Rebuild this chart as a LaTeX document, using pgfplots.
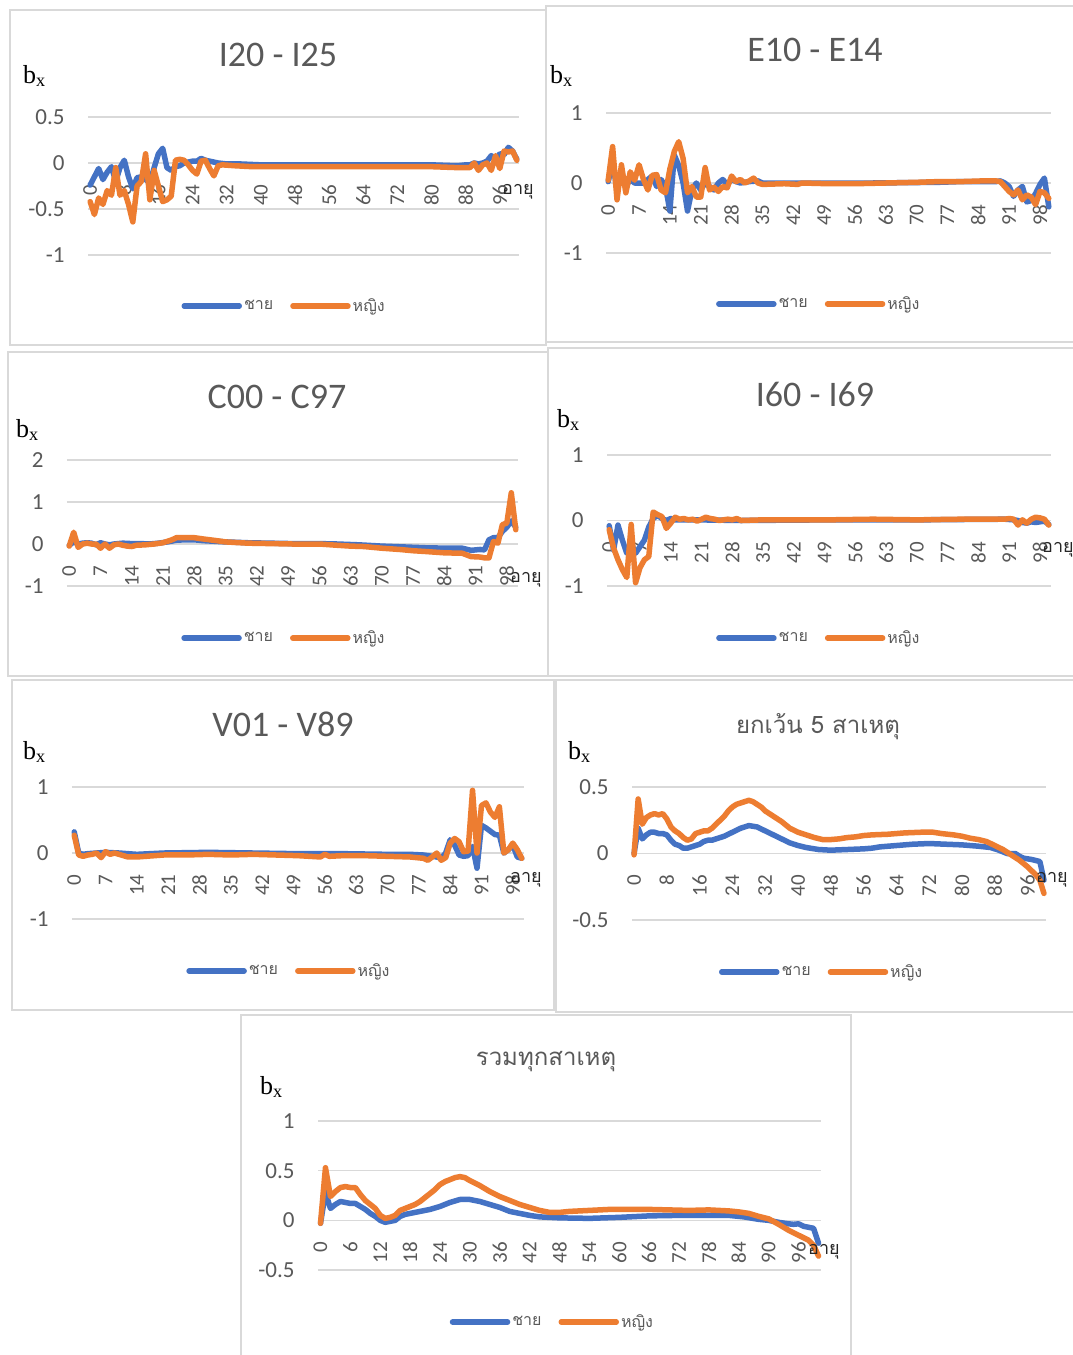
\documentclass[border=0pt]{standalone}
\usepackage{pgfplots}
\pgfplotsset{compat=1.18}
\usepackage{fontspec}
\setmainfont{Carlito}
\newfontfamily\thaifont[Script=Thai]{Loma}
\newfontfamily\seriffont{Liberation Serif}
\definecolor{mblue}{HTML}{4472C4}
\definecolor{forange}{HTML}{ED7D31}
\definecolor{gridgray}{HTML}{D9D9D9}
\definecolor{tickgray}{HTML}{595959}
\pgfplotsset{
  panel/.style={
    scale only axis,
    axis x line*=middle, axis y line*=left,
    axis line style={draw=none},
    major tick length=0pt,
    xmin=-0.5, xmax=100.5,
    ymajorgrids, grid style={draw=gridgray, line width=1.5pt},
    hide obscured x ticks=false, hide obscured y ticks=false,
    ticklabel style={text=tickgray},
    /pgf/number format/assume math mode=true,
    yticklabel style={font=\fontsize{23}{23}\selectfont, anchor=east, xshift=-20pt},
    xticklabel style={font=\fontsize{21}{21}\selectfont, yshift=-18pt, rotate=90, anchor=east},
    clip=false,
    every axis plot/.append style={line width=5.5pt, line join=round, line cap=round, mark=none},
    legend columns=2,
    legend style={draw=none, fill=none, inner sep=0pt, anchor=center,
      font=\thaifont\fontsize{16}{16}\selectfont, text=tickgray,
      /tikz/every even column/.append style={column sep=15pt},
      nodes={inner xsep=2pt}},
    legend image code/.code={\draw[#1] (0pt,0pt) -- (55pt,0pt);},
  },
}
\newcommand{\ttl}[3]{\node[text=tickgray, font=\fontsize{36}{36}\selectfont] at (#1pt,-#2pt) {#3};}
\newcommand{\thttl}[3]{\node[text=tickgray, font=\thaifont\fontsize{24}{24}\selectfont] at (#1pt,-#2pt) {#3};}
\newcommand{\bx}[2]{\node[anchor=west, inner sep=0pt, font=\seriffont\fontsize{26}{26}\selectfont] at (#1pt,-#2pt) {b\textsubscript{x}};}
\newcommand{\age}[2]{\node[anchor=west, inner sep=0pt, text=black!85, font=\thaifont\fontsize{18}{18}\selectfont] at (#1pt,-#2pt) {อายุ};}
\begin{document}
\begin{tikzpicture}
\useasboundingbox (0pt,0pt) rectangle (1073pt,-1355pt);
\fill[white] (0pt,0pt) rectangle (1073pt,-1355pt);
% panel frames
\draw[gridgray, line width=1.5pt] (10pt,-10pt) rectangle (546pt,-345pt);
\draw[gridgray, line width=1.5pt] (546pt,-6pt) rectangle (1080pt,-342pt);
\draw[gridgray, line width=1.5pt] (8pt,-352pt) rectangle (548pt,-676pt);
\draw[gridgray, line width=1.5pt] (548pt,-348pt) rectangle (1080pt,-676pt);
\draw[gridgray, line width=1.5pt] (12pt,-680pt) rectangle (554pt,-1010pt);
\draw[gridgray, line width=1.5pt] (556pt,-680pt) rectangle (1080pt,-1012pt);
\draw[gridgray, line width=1.5pt] (241pt,-1015pt) rectangle (851pt,-1365pt);

% ---------- Panel 1: I20 - I25
\begin{axis}[panel, at={(88pt,-255pt)}, anchor=south west, width=431pt, height=138pt,
  ymin=-1, ymax=0.5, ytick={-1,-0.5,0,0.5}, xtick={0,8,...,96},
  legend style={at={(axis description cs:0.455,-0.370)}}]
\addplot[mblue] coordinates {(0,-0.24)(1,-0.15)(2,-0.06)(3,-0.18)(4,-0.10)(5,-0.04)(6,-0.20)(7,-0.05)(8,0.03)(9,-0.15)(10,-0.28)(11,-0.16)(12,-0.15)(13,-0.18)(14,-0.22)(15,-0.05)(16,0.10)(17,0.16)(18,-0.05)(19,-0.08)(20,-0.04)(21,-0.03)(22,0.0)(23,0.01)(24,0.02)(25,0.02)(26,0.05)(27,0.03)(28,0.02)(29,0.01)(30,0.0)(32,-0.01)(35,-0.01)(40,-0.02)(50,-0.02)(60,-0.02)(70,-0.02)(80,-0.02)(86,-0.03)(88,-0.02)(89,-0.02)(90,0.0)(91,-0.01)(92,0.0)(93,0.02)(94,0.08)(95,0.04)(96,0.10)(97,0.09)(98,0.17)(99,0.13)(100,0.04)};
\addplot[forange] coordinates {(0,-0.42)(1,-0.56)(2,-0.38)(3,-0.45)(4,-0.30)(5,-0.35)(6,-0.05)(7,-0.35)(8,-0.30)(9,-0.45)(10,-0.64)(11,-0.25)(12,-0.20)(13,0.10)(14,-0.40)(15,-0.08)(16,-0.25)(17,-0.42)(18,-0.40)(19,-0.36)(20,0.03)(21,0.04)(22,0.03)(23,-0.02)(24,-0.08)(25,-0.12)(26,0.02)(27,0.03)(28,-0.06)(29,-0.14)(30,-0.03)(31,-0.02)(34,-0.03)(38,-0.04)(42,-0.04)(50,-0.04)(60,-0.04)(70,-0.04)(80,-0.04)(86,-0.05)(88,-0.05)(89,-0.05)(90,0.0)(91,-0.08)(92,-0.02)(93,0.0)(94,-0.08)(95,0.08)(96,-0.06)(97,0.13)(98,0.12)(99,0.13)(100,0.03)};
\legend{ชาย,หญิง}
\end{axis}
\ttl{278}{55}{I20 - I25}
\bx{23}{76}
\age{502}{192}

% ---------- Panel 2: E10 - E14
\begin{axis}[panel, at={(606pt,-253pt)}, anchor=south west, width=445pt, height=140pt,
  ymin=-1, ymax=1, ytick={-1,0,1}, xtick={0,7,...,98},
  legend style={at={(axis description cs:0.478,-0.364)}}]
\addplot[mblue] coordinates {(0,0.02)(1,0.30)(2,-0.10)(3,0.15)(4,-0.05)(5,0.05)(6,0.0)(7,0.0)(8,0.0)(9,0.05)(10,0.10)(11,-0.05)(12,0.05)(13,-0.05)(14,-0.40)(15,0.40)(16,0.25)(17,0.0)(18,-0.40)(19,-0.10)(20,0.0)(21,-0.10)(22,0.0)(23,-0.05)(24,-0.10)(25,0.0)(26,0.05)(27,-0.02)(28,0.05)(29,0.02)(30,0.0)(32,0.02)(34,0.03)(35,0.0)(45,0.0)(60,0.0)(75,0.01)(80,0.02)(88,0.02)(89,0.03)(90,0.0)(91,-0.05)(92,-0.19)(93,-0.10)(94,-0.05)(95,-0.27)(96,-0.25)(97,-0.15)(98,-0.02)(99,0.07)(100,-0.34)};
\addplot[forange] coordinates {(0,0.04)(1,0.52)(2,-0.24)(3,0.26)(4,-0.14)(5,0.16)(6,0.04)(7,0.26)(8,0.05)(9,-0.10)(10,0.11)(11,0.12)(12,-0.10)(13,-0.14)(14,0.20)(15,0.45)(16,0.59)(17,0.35)(18,-0.14)(19,-0.05)(20,-0.20)(21,-0.20)(22,0.22)(23,-0.10)(24,-0.06)(25,-0.12)(26,-0.05)(27,-0.07)(28,0.10)(29,0.02)(30,0.05)(31,0.0)(32,0.03)(33,0.07)(34,0.0)(35,-0.02)(40,-0.01)(43,-0.02)(44,0.0)(50,-0.01)(56,-0.01)(63,0.0)(70,0.01)(75,0.02)(80,0.02)(85,0.03)(88,0.03)(89,0.02)(90,-0.05)(91,-0.12)(92,-0.17)(93,-0.10)(94,-0.24)(95,-0.17)(96,-0.20)(97,-0.31)(98,-0.12)(99,-0.14)(100,-0.22)};
\legend{ชาย,หญิง}
\end{axis}
\ttl{815}{50}{E10 - E14}
\bx{550}{76}

% ---------- Panel 3: C00 - C97
\begin{axis}[panel, at={(67pt,-586pt)}, anchor=south west, width=451pt, height=126pt,
  ymin=-1, ymax=2, ytick={-1,0,1,2}, xtick={0,7,...,98},
  legend style={at={(axis description cs:0.481,-0.413)}}]
\addplot[mblue] coordinates {(0,-0.03)(1,0.05)(2,0.0)(3,0.02)(4,0.03)(5,0.02)(6,-0.02)(7,0.03)(8,0.0)(9,-0.02)(10,0.0)(12,0.02)(14,0.01)(16,0.01)(18,0.0)(20,0.02)(22,0.05)(24,0.09)(26,0.10)(28,0.10)(30,0.08)(35,0.05)(40,0.03)(45,0.02)(50,0.01)(56,0.01)(60,0.0)(65,-0.02)(70,-0.05)(75,-0.07)(80,-0.09)(85,-0.10)(88,-0.10)(90,-0.15)(92,-0.13)(93,-0.14)(94,0.10)(95,0.15)(96,0.15)(97,0.30)(98,0.40)(99,0.55)(100,0.40)};
\addplot[forange] coordinates {(0,-0.05)(1,0.28)(2,-0.08)(3,0.0)(4,0.02)(5,0.0)(6,0.0)(7,-0.10)(8,0.0)(9,-0.10)(10,-0.02)(11,0.0)(12,-0.03)(13,-0.05)(14,-0.06)(15,-0.03)(17,-0.02)(19,0.0)(21,0.03)(23,0.10)(24,0.15)(26,0.15)(28,0.15)(30,0.12)(33,0.08)(35,0.05)(40,0.02)(45,0.01)(50,0.0)(56,0.0)(60,-0.03)(63,-0.05)(66,-0.06)(70,-0.10)(74,-0.13)(77,-0.16)(80,-0.18)(84,-0.21)(88,-0.22)(89,-0.26)(90,-0.30)(92,-0.31)(93,-0.33)(94,-0.33)(95,0.06)(96,0.02)(97,0.46)(98,0.50)(99,1.22)(100,0.34)};
\legend{ชาย,หญิง}
\end{axis}
\ttl{277}{397}{C00 - C97}
\bx{16}{430}
\age{510}{580}

% ---------- Panel 4: I60 - I69
\begin{axis}[panel, at={(607pt,-586pt)}, anchor=south west, width=444pt, height=131pt,
  ymin=-1, ymax=1, ytick={-1,0,1}, xtick={0,7,...,98},
  legend style={at={(axis description cs:0.477,-0.397)}}]
\addplot[mblue] coordinates {(0,-0.08)(1,-0.45)(2,-0.07)(3,-0.30)(4,-0.50)(5,-0.35)(6,-0.50)(7,-0.40)(8,-0.30)(9,-0.10)(10,0.03)(11,0.08)(12,0.03)(13,0.0)(14,0.03)(15,0.01)(20,0.01)(30,0.0)(50,0.01)(70,0.01)(90,0.02)(92,0.01)(93,0.0)(94,-0.03)(95,-0.04)(96,-0.02)(97,-0.03)(98,-0.02)(99,-0.01)(100,-0.06)};
\addplot[forange] coordinates {(0,-0.14)(1,-0.42)(2,-0.60)(3,-0.75)(4,-0.87)(5,-0.06)(6,-0.95)(7,-0.72)(8,-0.60)(9,-0.55)(10,0.13)(11,0.09)(12,0.06)(13,-0.12)(14,-0.04)(15,0.05)(16,0.02)(17,0.03)(18,0.01)(19,0.02)(20,-0.01)(21,0.02)(22,0.05)(23,0.03)(24,0.02)(25,0.0)(26,0.01)(27,0.02)(28,0.01)(29,0.03)(30,0.0)(35,0.01)(40,0.01)(50,0.01)(60,0.02)(70,0.01)(80,0.02)(90,0.02)(91,0.03)(92,0.02)(93,-0.07)(94,0.01)(95,-0.04)(96,0.02)(97,0.05)(98,0.04)(99,0.02)(100,-0.07)};
\legend{ชาย,หญิง}
\end{axis}
\ttl{815}{394}{I60 - I69}
\bx{557}{420}
\age{1042}{550}

% ---------- Panel 5: V01 - V89
\begin{axis}[panel, at={(72pt,-919pt)}, anchor=south west, width=452pt, height=132pt,
  ymin=-1, ymax=1, ytick={-1,0,1}, xtick={0,7,...,98},
  legend style={at={(axis description cs:0.480,-0.394)}}]
\addplot[mblue] coordinates {(0,0.32)(1,0.0)(2,-0.02)(3,-0.01)(5,0.0)(7,0.01)(10,0.0)(14,-0.02)(20,0.0)(30,0.01)(40,0.0)(50,-0.01)(60,-0.01)(70,-0.02)(75,-0.02)(78,-0.03)(80,-0.05)(81,-0.06)(82,-0.08)(83,0.0)(84,0.20)(85,0.12)(86,-0.03)(87,-0.05)(88,-0.04)(89,0.10)(90,-0.23)(91,0.42)(92,0.38)(93,0.33)(94,0.28)(95,0.27)(96,0.0)(97,0.05)(98,0.12)(99,-0.06)(100,-0.08)};
\addplot[forange] coordinates {(0,0.27)(1,-0.03)(2,-0.05)(3,-0.03)(4,-0.02)(5,0.0)(6,-0.07)(7,0.02)(8,-0.02)(9,0.0)(10,-0.02)(12,-0.06)(14,-0.06)(16,-0.05)(20,-0.03)(25,-0.03)(30,-0.02)(35,-0.03)(40,-0.02)(45,-0.03)(50,-0.04)(55,-0.06)(56,-0.02)(57,-0.05)(60,-0.04)(65,-0.04)(70,-0.05)(75,-0.06)(78,-0.08)(79,-0.11)(80,-0.06)(81,0.0)(82,-0.11)(83,-0.07)(84,0.15)(85,0.22)(86,0.17)(87,0.02)(88,0.03)(89,0.95)(90,0.0)(91,0.72)(92,0.76)(93,0.62)(94,0.54)(95,0.70)(96,0.0)(97,0.05)(98,0.15)(99,0.05)(100,-0.08)};
\legend{ชาย,หญิง}
\end{axis}
\ttl{283}{724}{V01 - V89}
\bx{23}{752}
\age{510}{880}

% ---------- Panel 6: excluding 5 causes
\begin{axis}[panel, at={(632pt,-920pt)}, anchor=south west, width=414pt, height=133pt,
  ymin=-0.5, ymax=0.5, ytick={-0.5,0,0.5}, xtick={0,8,...,96},
  legend style={at={(axis description cs:0.458,-0.391)}}]
\addplot[mblue] coordinates {(0,0.0)(1,0.19)(2,0.11)(3,0.14)(4,0.16)(5,0.16)(6,0.15)(7,0.15)(8,0.14)(9,0.10)(10,0.07)(11,0.06)(12,0.04)(13,0.04)(14,0.05)(15,0.06)(16,0.07)(17,0.09)(18,0.10)(19,0.10)(20,0.11)(22,0.13)(24,0.16)(26,0.19)(28,0.21)(30,0.20)(32,0.17)(34,0.14)(36,0.11)(38,0.08)(40,0.06)(42,0.045)(45,0.03)(48,0.025)(52,0.03)(56,0.035)(58,0.04)(60,0.05)(64,0.06)(68,0.07)(72,0.075)(76,0.07)(80,0.065)(84,0.055)(87,0.045)(89,0.025)(91,0.0)(93,0.0)(94,-0.02)(95,-0.035)(97,-0.045)(99,-0.06)(100,-0.20)};
\addplot[forange] coordinates {(0,-0.01)(1,0.41)(2,0.22)(3,0.27)(4,0.29)(5,0.30)(6,0.29)(7,0.30)(8,0.26)(9,0.20)(10,0.17)(11,0.15)(12,0.12)(13,0.10)(14,0.11)(15,0.15)(16,0.16)(17,0.17)(18,0.17)(19,0.19)(20,0.22)(21,0.25)(22,0.28)(23,0.32)(24,0.35)(25,0.37)(26,0.38)(27,0.39)(28,0.40)(29,0.39)(30,0.37)(31,0.35)(32,0.32)(34,0.28)(36,0.24)(38,0.19)(40,0.16)(42,0.14)(44,0.12)(46,0.105)(48,0.105)(50,0.11)(52,0.12)(54,0.125)(56,0.135)(58,0.14)(62,0.145)(66,0.155)(70,0.16)(73,0.16)(75,0.15)(78,0.14)(80,0.13)(82,0.115)(84,0.105)(86,0.09)(88,0.06)(90,0.03)(92,-0.01)(94,-0.05)(96,-0.10)(98,-0.16)(99,-0.20)(100,-0.30)};
\legend{ชาย,หญิง}
\end{axis}
\thttl{818}{727}{ยกเว้น 5 สาเหตุ}
\bx{568}{752}
\age{1036}{880}

% ---------- Panel 7: all causes
\begin{axis}[panel, at={(318pt,-1270pt)}, anchor=south west, width=503pt, height=149pt,
  ymin=-0.5, ymax=1, ytick={-0.5,0,0.5,1}, xtick={0,6,...,96},
  legend style={at={(axis description cs:0.466,-0.349)}}]
\addplot[mblue] coordinates {(0,-0.03)(1,0.28)(2,0.12)(3,0.16)(4,0.19)(5,0.18)(6,0.17)(7,0.17)(8,0.14)(9,0.11)(10,0.07)(11,0.04)(12,0.0)(13,-0.02)(14,-0.01)(15,0.0)(16,0.04)(17,0.06)(18,0.07)(20,0.09)(22,0.11)(24,0.14)(26,0.18)(28,0.21)(30,0.21)(32,0.19)(34,0.16)(36,0.13)(38,0.09)(40,0.07)(42,0.05)(44,0.035)(48,0.025)(54,0.02)(60,0.03)(66,0.045)(72,0.05)(78,0.05)(82,0.05)(85,0.035)(88,0.01)(90,0.0)(92,-0.02)(94,-0.035)(95,-0.04)(96,-0.035)(97,-0.06)(98,-0.07)(99,-0.08)(100,-0.23)};
\addplot[forange] coordinates {(0,-0.03)(1,0.53)(2,0.24)(3,0.29)(4,0.33)(5,0.34)(6,0.33)(7,0.33)(8,0.26)(9,0.20)(10,0.16)(11,0.12)(12,0.05)(13,0.02)(14,0.03)(15,0.05)(16,0.10)(17,0.12)(18,0.14)(19,0.16)(20,0.19)(21,0.23)(22,0.27)(23,0.31)(24,0.36)(25,0.39)(26,0.41)(27,0.43)(28,0.44)(29,0.43)(30,0.40)(32,0.35)(34,0.29)(36,0.24)(38,0.20)(40,0.16)(42,0.13)(44,0.10)(46,0.08)(48,0.08)(50,0.09)(54,0.10)(58,0.11)(62,0.11)(66,0.11)(70,0.105)(74,0.10)(78,0.105)(82,0.095)(84,0.085)(86,0.07)(88,0.04)(90,0.015)(92,-0.04)(94,-0.10)(96,-0.15)(98,-0.20)(99,-0.25)(100,-0.36)};
\legend{ชาย,หญิง}
\end{axis}
\thttl{546}{1062}{รวมทุกสาเหตุ}
\bx{260}{1087}
\age{808}{1252}
\end{tikzpicture}
\end{document}
